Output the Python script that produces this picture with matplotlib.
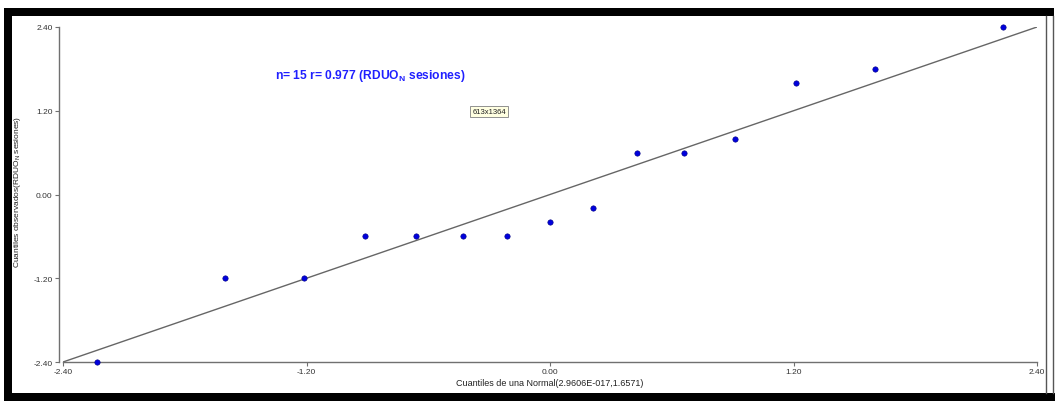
import matplotlib.pyplot as plt
from matplotlib.patches import Rectangle
from matplotlib.lines import Line2D

# Normal quantiles (x) against observed residual quantiles (y)
cuantiles_normal = [-2.23, -1.60, -1.21, -0.91, -0.66, -0.43, -0.21, 0.00,
                    0.21, 0.43, 0.66, 0.91, 1.21, 1.60, 2.23]
cuantiles_obs = [-2.40, -1.20, -1.20, -0.60, -0.60, -0.60, -0.60, -0.40,
                 -0.20, 0.60, 0.60, 0.80, 1.60, 1.80, 2.40]
ticks = [-2.40, -1.20, 0.00, 1.20, 2.40]
n_obs = 15
r_corr = 0.977

plt.rcParams['font.family'] = ['Liberation Sans', 'DejaVu Sans']
plt.rcParams['mathtext.fontset'] = 'custom'
plt.rcParams['mathtext.rm'] = 'Liberation Sans'
plt.rcParams['mathtext.bf'] = 'Liberation Sans:bold'

W, H = 1055, 402
fig = plt.figure(figsize=(W / 100, H / 100), dpi=100)
fig.patch.set_facecolor('white')

# frame around the plot window
def px_rect(x0, y0, x1, y1, color='black'):
    fig.patches.append(Rectangle((x0 / W, 1 - y1 / H), (x1 - x0) / W, (y1 - y0) / H,
                                 transform=fig.transFigure, facecolor=color,
                                 edgecolor='none', zorder=0))

px_rect(4, 9, 1054, 17)
px_rect(4, 9, 12, 402)
px_rect(4, 394, 1055, 402)
for xr in (1045.5, 1053):
    fig.lines.append(Line2D([xr / W, xr / W], [1 - 394 / H, 1 - 17 / H],
                            transform=fig.transFigure, color='#555555', lw=1))

ax = fig.add_axes([63 / W, 1 - 363 / H, 974 / W, 335 / H])
ax.set_facecolor('none')
ax.set_xlim(-2.4, 2.4)
ax.set_ylim(-2.4, 2.4)

# reference line y = x
ax.plot([-2.4, 2.4], [-2.4, 2.4], color='#666666', lw=1.0, zorder=2)
ax.scatter(cuantiles_normal, cuantiles_obs, s=15, color='#0000dd',
           edgecolors='#000080', linewidths=0.4, zorder=3, clip_on=False)

for side in ('top', 'right'):
    ax.spines[side].set_visible(False)
ax.spines['left'].set_position(('outward', 3))
for side in ('left', 'bottom'):
    ax.spines[side].set_color('#707070')
    ax.spines[side].set_linewidth(1.0)

ax.set_xticks(ticks)
ax.set_yticks(ticks)
ax.set_xticklabels([f'{t:.2f}' for t in ticks])
ax.set_yticklabels([f'{t:.2f}' for t in ticks])
ax.tick_params(axis='both', length=3, width=0.8, color='#707070',
               labelsize=6, labelcolor='#333333', pad=1.5)

ax.set_xlabel('Cuantiles de una Normal(2.9606E-017,1.6571)', fontsize=6.5,
              color='#222222', labelpad=2)
fig.text(18 / W, 1 - 192 / H, r'Cuantiles observados(RDUO$_{\mathregular{N}}$ sesiones)',
         rotation=90, fontsize=6, color='#222222', ha='center', va='center')

ax.text(-1.355, 1.71, f'n= {n_obs} r= {r_corr:.3f} ' + r'(RDUO$_{\mathbf{N}}$ sesiones)',
        fontsize=8.7, fontweight='bold', color='#2020ff', ha='left', va='center')

fig.text(489 / W, 1 - 112.5 / H, '613x1364', fontsize=5.5, color='#222222',
         ha='center', va='center',
         bbox=dict(boxstyle='square,pad=0.3', facecolor='#ffffe1',
                   edgecolor='#808080', linewidth=0.6))

fig.savefig('out.png', dpi=100)
